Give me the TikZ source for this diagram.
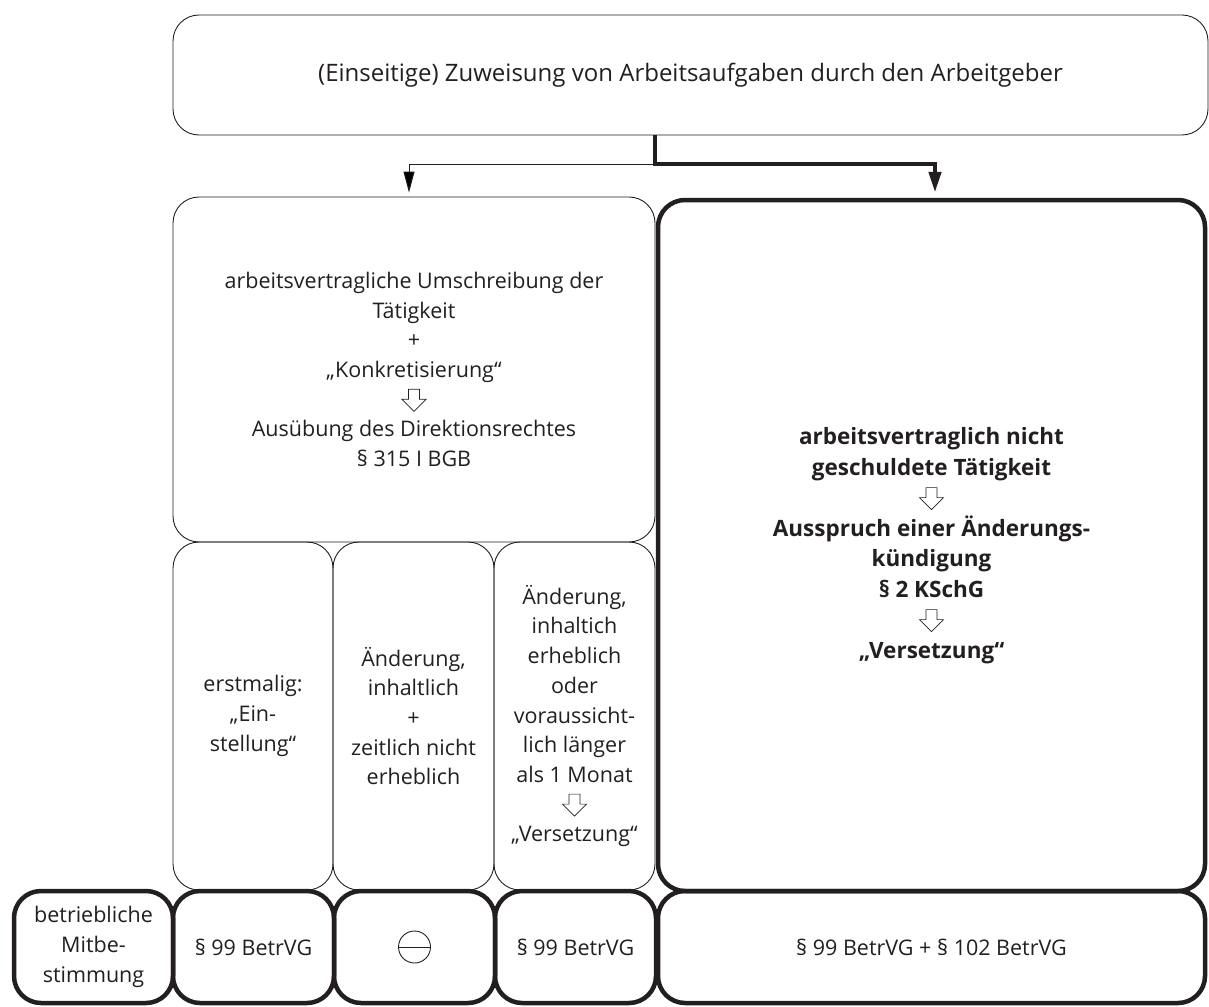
\documentclass[tikz,border=0pt]{standalone}
\usepackage{fontspec}
\setmainfont{Open Sans}
\usetikzlibrary{arrows.meta,calc}
\definecolor{ink}{HTML}{231F20}
\newcommand{\normaltext}{\fontsize{21.5}{29.7}\selectfont}
\newcommand{\toptext}{\fontsize{24}{29.7}\selectfont}
\newcommand{\boldtext}{\fontsize{22.5}{30.5}\selectfont\bfseries}
\newcommand{\harrow}{\tikz[x=1pt,y=1pt,baseline=0pt]\draw[draw=ink,line width=0.7pt,sharp corners,line join=miter] (-5.5,18)--(-5.5,8)--(-12,8)--(0,-4)--(12,8)--(5.5,8)--(5.5,18)--cycle;}
\begin{document}
\begin{tikzpicture}[x=1pt,y=-1pt,
  thinbox/.style={draw=ink, line width=0.9pt, rounded corners=26pt, inner sep=0pt, align=center, text=ink, font=\normaltext},
  thickbox/.style={draw=ink, line width=4.5pt, rounded corners=27pt, inner sep=0pt, align=center, text=ink, font=\normaltext},
  thinconn/.style={draw=ink, line width=0.9pt, -{Triangle[length=21pt,width=11pt]}},
  thickconn/.style={draw=ink, line width=4.5pt, line join=miter, -{Triangle[length=21pt,width=12pt]}}]
\useasboundingbox (0,0) rectangle (1209,1006);

% top
\node[thinbox, minimum width=1035pt, minimum height=120pt, font=\toptext] (top) at (690.5,75)
  {(Einseitige) Zuweisung von Arbeitsaufgaben durch den Arbeitgeber};

% middle
\node[thinbox, minimum width=482pt, minimum height=345pt] (left) at (414,369.5)
  {arbeitsvertragliche Umschreibung der\\ Tätigkeit\\ +\\ „Konkretisierung“\\ \harrow\\ Ausübung des Direktionsrechtes\\ § 315 I BGB};

\node[thickbox, minimum width=547pt, minimum height=691pt, font=\boldtext] (right) at (931.5,545.5)
  {arbeitsvertraglich nicht\\ geschuldete Tätigkeit\\ \harrow\\ Ausspruch einer Änderungs-\\ kündigung\\ § 2 KSchG\\ \harrow\\ „Versetzung“};

\node[thinbox, minimum width=160pt, minimum height=348pt] (s1) at (253,716)
  {erstmalig:\\ „Ein-\\ stellung“};
\node[thinbox, minimum width=161pt, minimum height=348pt] (s2) at (413.5,716)
  {Änderung,\\ inhaltlich\\ +\\ zeitlich nicht\\ erheblich};
\node[thinbox, minimum width=161pt, minimum height=348pt] (s3) at (574.5,716)
  {Änderung,\\ inhaltich\\ erheblich\\ oder\\ voraussicht-\\ lich länger\\ als 1 Monat\\ \harrow\\ „Versetzung“};

% bottom
\node[thickbox, minimum width=159pt, minimum height=112pt] (b0) at (93.5,947)
  {betriebliche\\ Mitbe-\\ stimmung};
\node[thickbox, minimum width=161pt, minimum height=112pt] (b1) at (253.5,947) {§ 99 BetrVG};
\node[thickbox, minimum width=161pt, minimum height=112pt] (b2) at (414.5,947) {};
\node[thickbox, minimum width=161pt, minimum height=112pt] (b3) at (575.5,947) {§ 99 BetrVG};
\node[thickbox, minimum width=547pt, minimum height=112pt] (b4) at (931.5,947) {§ 99 BetrVG + § 102 BetrVG};

\node[circle, draw=ink, line width=0.9pt, minimum size=32pt, inner sep=0pt] (minus) at (b2.center) {};
\draw[draw=ink, line width=0.9pt] (minus.west) -- (minus.east);

% connectors
\coordinate (split) at (655,164);
\draw[thickconn, shorten >=5pt] (top.south -| split) -- (split) -| ([xshift=3.5pt]right.north);
\draw[thinconn, shorten >=4pt] (split) -| ([xshift=-5pt]left.north);
\end{tikzpicture}
\end{document}
